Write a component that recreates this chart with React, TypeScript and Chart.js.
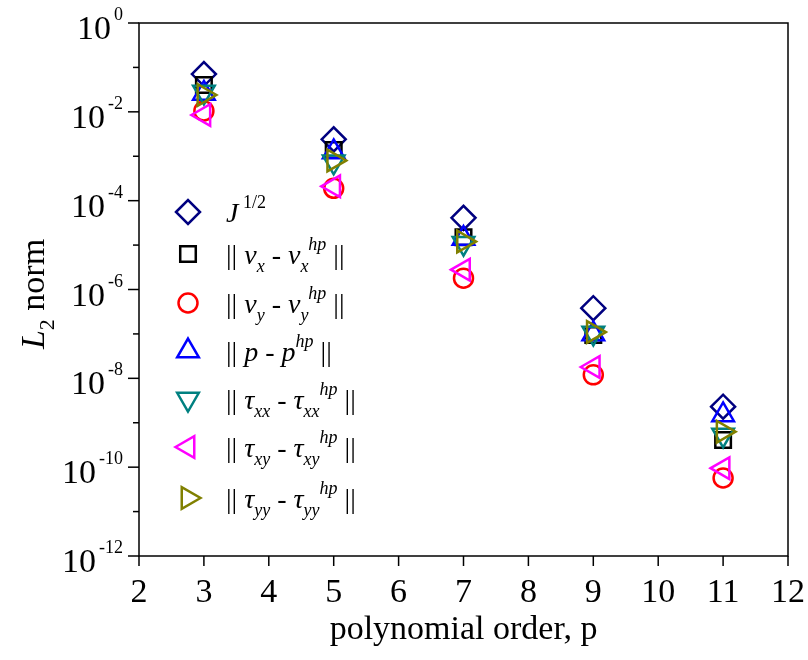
import { useEffect, useRef } from 'react';
import { Chart, registerables } from 'chart.js';
import { drawPoint } from 'chart.js/helpers';
Chart.register(...registerables);

// ---- data ----
const orders = [3, 5, 7, 9, 11];
const jHalf = [0.071, 2.4e-3, 4.1e-5, 3.8e-7, 2.3e-9];
const vxErr = [0.04, 1.38e-3, 1.5e-5, 9.5e-8, 4.1e-10];
const vyErr = [0.0105, 1.9e-4, 1.8e-6, 1.2e-8, 5.7e-11];
const pErr = [0.026, 1.25e-3, 1.4e-5, 1.0e-7, 1.5e-9];
const txxErr = [0.028, 7.5e-4, 1.1e-5, 1.05e-7, 5.3e-10];
const txyErr = [0.0085, 2.1e-4, 2.8e-6, 1.8e-8, 9.5e-11];
const tyyErr = [0.024, 8e-4, 1.2e-5, 1.1e-7, 6.3e-10];

const xTicks = [2, 3, 4, 5, 6, 7, 8, 9, 10, 11, 12];
const yExponents = [0, -1, -2, -3, -4, -5, -6, -7, -8, -9, -10, -11, -12];
const yLabelExponents = ['0', '-2', '-4', '-6', '-8', '-10', '-12'];

const xTitle = 'polynomial order, p';

type Seg = [string, 'n' | 'i', 'b' | 'sub' | 'sup'];
const legendLabels: Seg[][] = [
  [['J', 'i', 'b'], [' ', 'n', 'sup'], ['1/2', 'n', 'sup']],
  [['|| ', 'n', 'b'], ['v', 'i', 'b'], ['x', 'i', 'sub'], [' - ', 'n', 'b'], ['v', 'i', 'b'], ['x', 'i', 'sub'], ['hp', 'i', 'sup'], [' ||', 'n', 'b']],
  [['|| ', 'n', 'b'], ['v', 'i', 'b'], ['y', 'i', 'sub'], [' - ', 'n', 'b'], ['v', 'i', 'b'], ['y', 'i', 'sub'], ['hp', 'i', 'sup'], [' ||', 'n', 'b']],
  [['|| ', 'n', 'b'], ['p', 'i', 'b'], [' - ', 'n', 'b'], ['p', 'i', 'b'], ['hp', 'i', 'sup'], [' ||', 'n', 'b']],
  [['|| ', 'n', 'b'], ['τ', 'i', 'b'], ['xx', 'i', 'sub'], [' - ', 'n', 'b'], ['τ', 'i', 'b'], ['xx', 'i', 'sub'], ['hp', 'i', 'sup'], [' ||', 'n', 'b']],
  [['|| ', 'n', 'b'], ['τ', 'i', 'b'], ['xy', 'i', 'sub'], [' - ', 'n', 'b'], ['τ', 'i', 'b'], ['xy', 'i', 'sub'], ['hp', 'i', 'sup'], [' ||', 'n', 'b']],
  [['|| ', 'n', 'b'], ['τ', 'i', 'b'], ['yy', 'i', 'sub'], [' - ', 'n', 'b'], ['τ', 'i', 'b'], ['yy', 'i', 'sub'], ['hp', 'i', 'sup'], [' ||', 'n', 'b']],
];

const seriesValues = [jHalf, vxErr, vyErr, pErr, txxErr, txyErr, tyyErr];
const seriesColors = ['#000080', '#000000', '#FF0000', '#0000FF', '#008080', '#FF00FF', '#808000'];
const seriesStyles = ['rectRot', 'rect', 'circle', 'triangle', 'triangle', 'triangle', 'triangle'];
const seriesRotations = [0, 0, 0, 0, 180, -90, 90];
const seriesRadii = [12, 11, 9.5, 12.5, 12.5, 12.5, 12.5];

const FONT = '"Liberation Serif", "Times New Roman", serif';

function font(size: number, italic: boolean) {
  return `${italic ? 'italic ' : ''}${size}px ${FONT}`;
}

function drawRich(ctx: CanvasRenderingContext2D, segs: Seg[], x: number, y: number, size: number) {
  const small = Math.round(size * 0.65);
  let cx = x;
  for (const [t, st, pos] of segs) {
    const sz = pos === 'b' ? size : small;
    ctx.font = font(sz, st === 'i');
    const dy = pos === 'sub' ? size * 0.3 : pos === 'sup' ? -size * 0.5 : 0;
    ctx.fillText(t, cx, y + dy);
    cx += ctx.measureText(t).width;
  }
}

const overlay = {
  id: 'overlay',
  afterDraw(chart: any) {
    const { ctx, chartArea: a, scales } = chart;
    const xs = scales.x;
    const ys = scales.y;
    ctx.save();
    ctx.strokeStyle = '#000';
    ctx.fillStyle = '#000';
    ctx.lineWidth = 1.5;
    ctx.strokeRect(a.left, a.top, a.right - a.left, a.bottom - a.top);

    // y ticks and labels
    ctx.textBaseline = 'alphabetic';
    yExponents.forEach((e) => {
      const py = ys.getPixelForValue(Math.pow(10, e));
      const major = e % 2 === 0;
      ctx.beginPath();
      ctx.moveTo(a.left - (major ? 11 : 6), py);
      ctx.lineTo(a.left, py);
      ctx.stroke();
    });
    yLabelExponents.forEach((ex) => {
      const py = ys.getPixelForValue(Math.pow(10, Number(ex)));
      ctx.font = font(18, false);
      const sw = ctx.measureText(ex).width;
      const right = a.left - 16;
      ctx.textAlign = 'left';
      ctx.fillText(ex, right - sw, py - 3);
      ctx.font = font(34, false);
      ctx.textAlign = 'right';
      ctx.fillText('10', right - sw - 3, py + 16);
    });

    // x ticks and labels
    xTicks.forEach((v) => {
      const px = xs.getPixelForValue(v);
      ctx.beginPath();
      ctx.moveTo(px, a.bottom);
      ctx.lineTo(px, a.bottom + 10);
      ctx.stroke();
      ctx.font = font(34, false);
      ctx.textAlign = 'center';
      ctx.fillText(String(v), px, 602);
    });

    // x title
    ctx.font = font(34, false);
    ctx.textAlign = 'center';
    ctx.fillText(xTitle, (a.left + a.right) / 2, 639);

    // y title
    ctx.save();
    ctx.translate(44, 294);
    ctx.rotate(-Math.PI / 2);
    ctx.textAlign = 'left';
    const ySegs: Seg[] = [['L', 'i', 'b'], ['2', 'n', 'sub'], [' norm', 'n', 'b']];
    let w = 0;
    for (const [t, st, pos] of ySegs) {
      ctx.font = font(pos === 'b' ? 34 : 22, st === 'i');
      w += ctx.measureText(t).width;
    }
    drawRich(ctx, ySegs, -w / 2, 0, 34);
    ctx.restore();

    // legend
    const rowY = [212, 254, 303, 351, 399, 447, 498];
    legendLabels.forEach((segs, i) => {
      const cy = rowY[i];
      ctx.strokeStyle = seriesColors[i];
      ctx.fillStyle = 'rgba(0,0,0,0)';
      ctx.lineWidth = 2.5;
      drawPoint(ctx, { pointStyle: seriesStyles[i] as any, rotation: seriesRotations[i], radius: seriesRadii[i], borderWidth: 2.5 }, 188, cy);
      ctx.fillStyle = '#000';
      ctx.textAlign = 'left';
      drawRich(ctx, segs, 226, cy + 10, 28);
    });
    ctx.restore();
  },
};

export default function App() {
  const ref = useRef<HTMLCanvasElement>(null);
  useEffect(() => {
    document.body.style.margin = '0';
    const datasets = seriesValues.map((vals, i) => ({
      label: 's' + i,
      data: orders.map((o, j) => ({ x: o, y: vals[j] })),
      showLine: false,
      pointStyle: seriesStyles[i] as any,
      pointRotation: seriesRotations[i],
      pointRadius: seriesRadii[i],
      pointHoverRadius: seriesRadii[i],
      pointBorderWidth: 2.5,
      pointBorderColor: seriesColors[i],
      pointBackgroundColor: 'rgba(0,0,0,0)',
      borderColor: seriesColors[i],
      backgroundColor: 'rgba(0,0,0,0)',
      order: -i,
    }));
    const chart = new Chart(ref.current!, {
      type: 'scatter',
      data: { datasets },
      options: {
        animation: false,
        responsive: false,
        events: [],
        layout: { padding: { left: 0, right: 20, top: 23, bottom: 0 } },
        plugins: { legend: { display: false }, tooltip: { enabled: false } },
        scales: {
          x: {
            type: 'linear',
            min: 2,
            max: 12,
            grid: { display: false },
            border: { display: false },
            ticks: { display: false, stepSize: 1 },
            afterFit: (s: any) => { s.height = 104; },
          },
          y: {
            type: 'logarithmic',
            min: 1e-12,
            max: 1,
            grid: { display: false },
            border: { display: false },
            ticks: { display: false },
            afterFit: (s: any) => { s.width = 139; },
          },
        },
      },
      plugins: [overlay],
    });
    return () => chart.destroy();
  }, []);
  return (
    <div style={{ width: 808, height: 660 }}>
      <canvas ref={ref} width={808} height={660} style={{ display: 'block' }} />
    </div>
  );
}
